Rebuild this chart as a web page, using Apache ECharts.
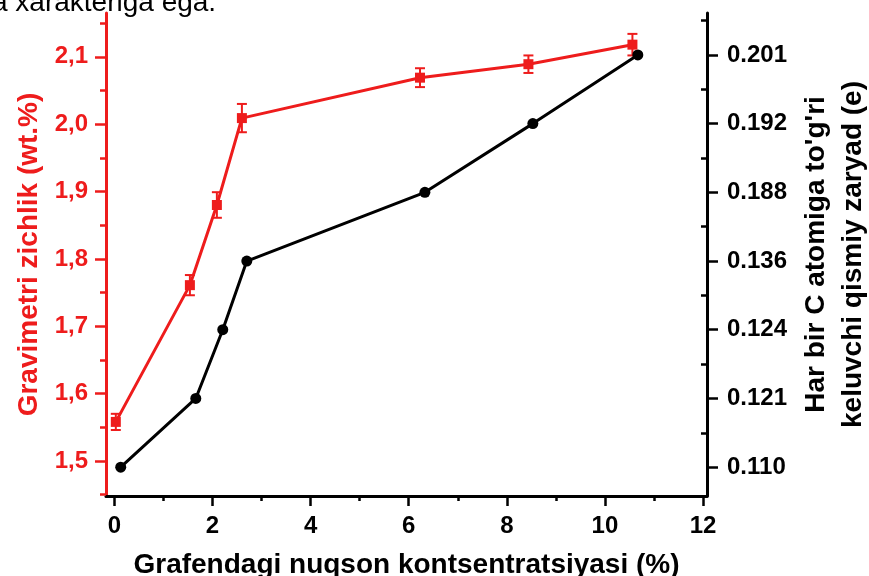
<!DOCTYPE html>
<html>
<head>
<meta charset="utf-8">
<script src="https://cdn.jsdelivr.net/npm/echarts@6/dist/echarts.min.js"></script>
<style>
  html, body { margin: 0; padding: 0; background: #fff; }
  #chart { width: 869px; height: 576px; }
</style>
</head>
<body>
<div id="chart"></div>
<script>
// gravimetrik zichlik (qizil)
var densityX = [0.03, 1.54, 2.09, 2.6, 6.23, 8.44, 10.56];
var density = [1.558, 1.761, 1.880, 2.009, 2.069, 2.089, 2.118];
var densityErr = [0.012, 0.015, 0.019, 0.021, 0.014, 0.013, 0.016];
// zaryad (qora) - o'ng o'q teng qadamli belgilar
var chargeX = [0.13, 1.66, 2.21, 2.7, 6.33, 8.53, 10.67];
var charge = ['0.110', '0.121', '0.124', '0.136', '0.188', '0.192', '0.201'];
var chargeTicks = ['0.110', '0.121', '0.124', '0.136', '0.188', '0.192', '0.201'];
var xTicks = [0, 2, 4, 6, 8, 10, 12];
var xMinor = [1, 3, 5, 7, 9, 11];
var leftTicks = [1.5, 1.6, 1.7, 1.8, 1.9, 2.0, 2.1];
var leftMinor = [1.45, 1.55, 1.65, 1.75, 1.85, 1.95, 2.05, 2.15];
var rightTicks = [0, 1, 2, 3, 4, 5, 6];
var rightMinor = [0.5, 1.5, 2.5, 3.5, 4.5, 5.5, 6.5];

var RED = '#ee1c1c';
var FONT = '"Liberation Sans", Arial, sans-serif';

var chart = echarts.init(document.getElementById('chart'));

var redData = densityX.map(function (x, i) { return [x, density[i]]; });
var errData = densityX.map(function (x, i) { return [x, density[i] - densityErr[i], density[i] + densityErr[i]]; });
var blackData = chargeX.map(function (x, i) { return [x, chargeTicks.indexOf(charge[i])]; });

// faqat kichik shtrixlar uchun ustma-ust o'q
function minorAxis(pos, min, max, vals, color, len, inside) {
    return {
        type: 'value', position: pos, min: min, max: max,
        axisLine: { show: false, onZero: false },
        axisLabel: { show: false },
        splitLine: { show: false },
        axisTick: { show: true, inside: inside, length: len, customValues: vals, lineStyle: { color: color, width: 2.5 } }
    };
}

chart.setOption({
    animation: false,
    grid: { left: 106, right: 162, top: 13, bottom: 80, outerBoundsMode: 'none', containLabel: false },
    graphic: [{
        type: 'text',
        style: { x: -8, y: 17, text: 'a xarakteriga ega.', font: '28px ' + FONT, fill: '#000', verticalAlign: 'bottom' }
    }],
    xAxis: [{
        type: 'value', min: -0.17, max: 12.08,
        name: 'Grafendagi nuqson kontsentratsiyasi (%)',
        nameLocation: 'middle', nameGap: 55,
        nameTextStyle: { fontFamily: FONT, fontWeight: 'bold', fontSize: 28, color: '#000' },
        axisLine: { onZero: false, lineStyle: { color: '#000', width: 3 } },
        axisTick: { length: 10, customValues: xTicks, lineStyle: { color: '#000', width: 2.5 } },
        axisLabel: { customValues: xTicks, margin: 18, fontFamily: FONT, fontWeight: 'bold', fontSize: 24, color: '#000' },
        splitLine: { show: false }
    },
    minorAxis('bottom', -0.17, 12.08, xMinor, '#000', 5, false)
    ],
    yAxis: [{
        type: 'value', position: 'left', min: 1.448, max: 2.165,
        name: 'Gravimetri zichlik (wt.%)',
        nameLocation: 'middle', nameGap: 62,
        nameTextStyle: { fontFamily: FONT, fontWeight: 'bold', fontSize: 28, color: RED },
        axisLine: { show: true, onZero: false, lineStyle: { color: RED, width: 3 } },
        axisTick: { show: true, length: 11, customValues: leftTicks, lineStyle: { color: RED, width: 2.5 } },
        axisLabel: {
            customValues: leftTicks, margin: 18, fontFamily: FONT, fontWeight: 'bold', fontSize: 24, color: RED,
            formatter: function (v) { return v.toFixed(1).replace('.', ','); }
        },
        splitLine: { show: false }
    }, {
        type: 'value', position: 'right', min: -0.42, max: 6.61,
        name: "Har bir C atomiga to'g'ri\nkeluvchi qismiy zaryad (e)",
        nameLocation: 'middle', nameGap: 91,
        nameTextStyle: { fontFamily: FONT, fontWeight: 'bold', fontSize: 28, color: '#000', lineHeight: 37 },
        axisLine: { show: true, onZero: false, lineStyle: { color: '#000', width: 3 } },
        axisTick: { show: true, length: 11, customValues: rightTicks, lineStyle: { color: '#000', width: 2.5 } },
        axisLabel: {
            customValues: rightTicks, margin: 20, fontFamily: FONT, fontWeight: 'bold', fontSize: 24, color: '#000',
            formatter: function (v) { return chargeTicks[Math.round(v)]; }
        },
        splitLine: { show: false }
    },
    minorAxis('left', 1.448, 2.165, leftMinor, RED, 6, false),
    minorAxis('right', -0.42, 6.61, rightMinor, '#000', 6, true)
    ],
    series: [{
        type: 'line', yAxisIndex: 1, data: blackData,
        symbol: 'circle', symbolSize: 11,
        lineStyle: { color: '#000', width: 3 },
        itemStyle: { color: '#000' }
    }, {
        type: 'custom', yAxisIndex: 0, data: errData,
        renderItem: function (params, api) {
            var x = api.value(0);
            var lo = api.coord([x, api.value(1)]);
            var hi = api.coord([x, api.value(2)]);
            var w = 5;
            var st = { stroke: RED, lineWidth: 2 };
            return {
                type: 'group',
                children: [
                    { type: 'line', shape: { x1: lo[0], y1: lo[1], x2: hi[0], y2: hi[1] }, style: st },
                    { type: 'line', shape: { x1: lo[0] - w, y1: lo[1], x2: lo[0] + w, y2: lo[1] }, style: st },
                    { type: 'line', shape: { x1: hi[0] - w, y1: hi[1], x2: hi[0] + w, y2: hi[1] }, style: st }
                ]
            };
        },
        z: 3
    }, {
        type: 'line', yAxisIndex: 0, data: redData,
        symbol: 'rect', symbolSize: 10,
        lineStyle: { color: RED, width: 3 },
        itemStyle: { color: RED },
        z: 4
    }]
});
</script>
</body>
</html>
